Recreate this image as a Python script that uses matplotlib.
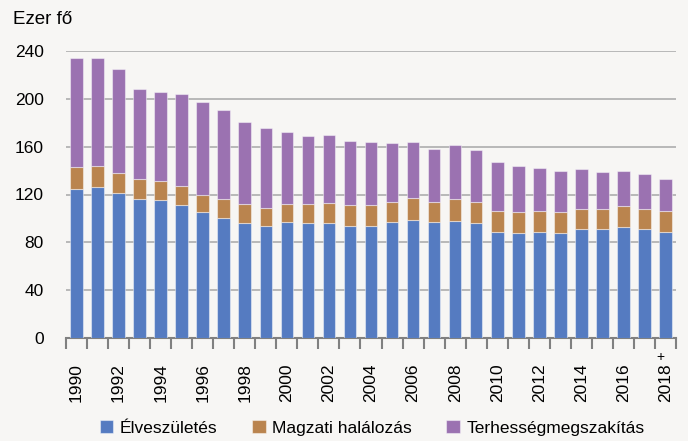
import matplotlib.pyplot as plt
import numpy as np

plt.rcParams['font.family'] = ['Liberation Sans', 'DejaVu Sans']

years = list(range(1990, 2019))
# thousand persons
elveszuletes = [125, 126, 121, 116, 115, 111, 105, 100, 96, 94, 97, 96, 96, 94, 94,
                97, 99, 97, 98, 96, 89, 88, 89, 88, 91, 91, 93, 91, 89]
magzati = [18, 18, 17, 17, 16, 16, 15, 16, 16, 15, 15, 16, 17, 17, 17,
           17, 18, 17, 18, 18, 17, 17, 17, 17, 17, 17, 17, 17, 17]
terhesseg = [91, 90, 87, 75, 75, 77, 77, 75, 69, 67, 60, 57, 57, 54, 53,
             49, 47, 44, 45, 43, 41, 39, 36, 35, 33, 31, 30, 29, 27]
series_names = ['Élveszületés', 'Magzati halálozás', 'Terhességmegszakítás']
colors = ['#557bc1', '#ba844e', '#9b72b1']
yticks = [0, 40, 80, 120, 160, 200, 240]

bg = '#f7f6f4'
fig = plt.figure(figsize=(6.88, 4.41), dpi=100, facecolor=bg)
ax = fig.add_axes([66 / 688, 1 - 338 / 441, 610 / 688, 287 / 441], facecolor=bg)

x = np.arange(len(years))
bottom = np.zeros(len(years))
for vals, name, c in zip([elveszuletes, magzati, terhesseg], series_names, colors):
    ax.bar(x, vals, width=0.6, bottom=bottom, color=c, label=name,
           edgecolor=(1, 1, 1, 0.45), linewidth=0.8, zorder=3)
    bottom += np.array(vals)

ax.set_xlim(-0.5, len(years) - 0.5)
ax.set_ylim(0, 240)
ax.set_yticks(yticks)
ax.set_yticklabels([str(v) for v in yticks], fontsize=12.5)
ax.tick_params(axis='y', length=0, pad=16)
ax.yaxis.grid(True, color='#b3b3b3', linewidth=1.3, zorder=0)
ax.set_axisbelow(True)

# tick marks between bars, labels every second year
ax.set_xticks(np.arange(-0.5, len(years), 1.0))
ax.set_xticklabels([])
ax.set_xticks(x[::2], minor=True)
ax.set_xticklabels([str(y) for y in years[::2]], minor=True, rotation=90, fontsize=12.5)
ax.tick_params(axis='x', which='major', length=8, width=1.5, color='#808080', direction='out')
ax.tick_params(axis='x', which='minor', length=0, pad=18)
ax.annotate('+', xy=(x[-1], 0), xycoords='data', xytext=(-4, -13.5),
            textcoords='offset points', ha='center', va='center', fontsize=10)

for s in ['top', 'right', 'left']:
    ax.spines[s].set_visible(False)
ax.spines['bottom'].set_color('#808080')
ax.spines['bottom'].set_linewidth(1.5)

fig.text(13 / 688, 1 - 19 / 441, 'Ezer fő', fontsize=13.5, va='center', ha='left')

fig.legend(loc='center', bbox_to_anchor=(372 / 688, 1 - 428 / 441), ncol=3, frameon=False,
           fontsize=12.5, handlelength=0.8, handleheight=0.8, handletextpad=0.35,
           columnspacing=2.0)

fig.savefig('out.png', dpi=100, facecolor=bg)
